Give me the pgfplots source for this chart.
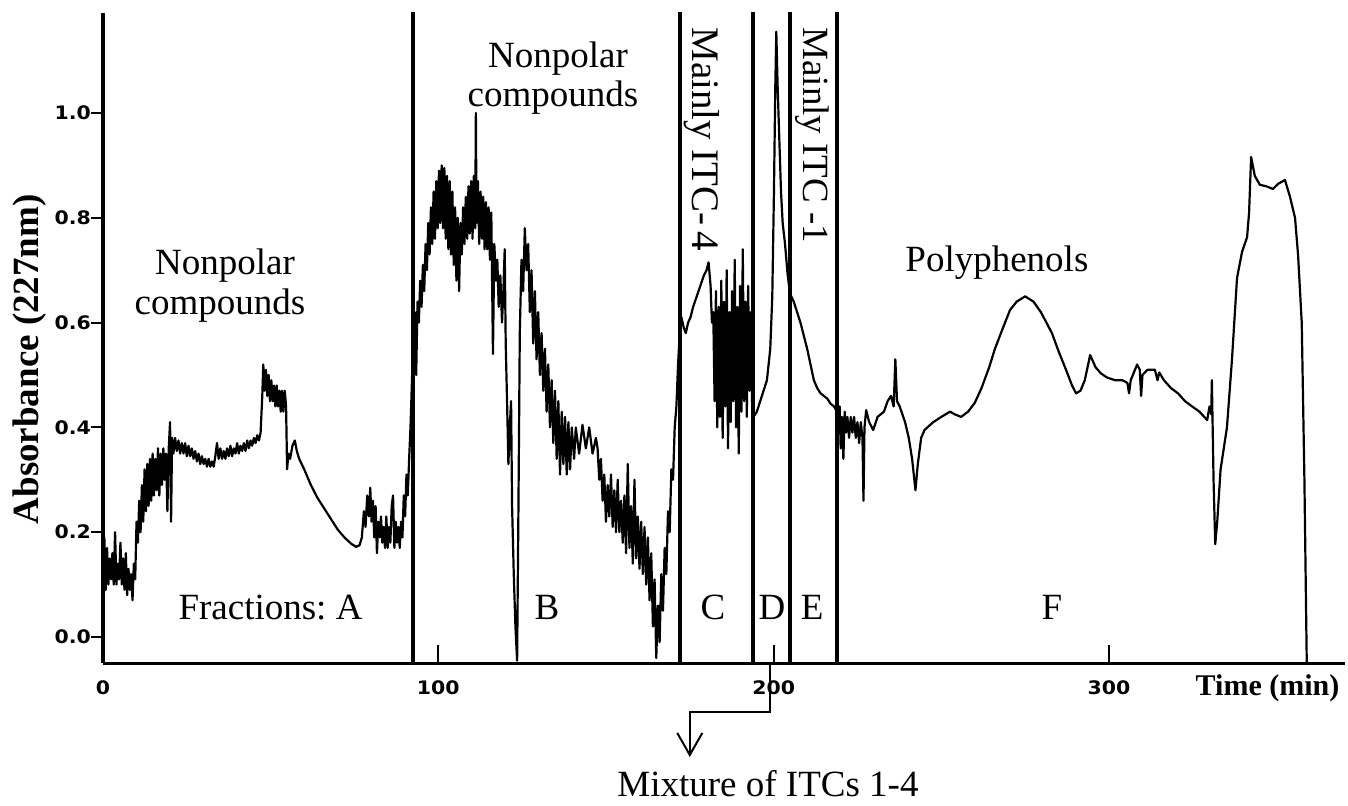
\documentclass[border=0pt]{standalone}
\usepackage{fontspec}
\setmainfont{Liberation Serif}
\newfontfamily\tickfont{DejaVu Sans}[FakeStretch=1.1]
\usepackage{pgfplots}
\pgfplotsset{compat=1.18}
\usetikzlibrary{arrows.meta}
\begin{document}
\begin{tikzpicture}
\begin{axis}[
  x=1.6765pt, y=262pt,
  xmin=0, xmax=370.4, ymin=-0.05, ymax=1.19,
  axis lines=left,
  x axis line style={-, line width=1.5pt},
  y axis line style={-, line width=2.2pt},
  clip=false,
  ytick={0,0.2,0.4,0.6,0.8,1.0},
  yticklabels={0.0,0.2,0.4,0.6,0.8,1.0},
  xtick={0,100,200,300},
  xticklabels={0,100,200,300},
  tick align=outside,
  major tick length=6pt,
  ytick style={line width=1pt, black},
  xtick style={draw=none},
  ticklabel style={font=\tickfont\bfseries\fontsize{9.3}{11}\selectfont},
  yticklabel style={xshift=3.5pt},
  xticklabel style={yshift=1pt},
]
\addplot[black, line width=1.1pt, line join=round] coordinates {
(0,0.12) (0.4,0.19) (0.8,0.09) (1.2,0.17) (1.6,0.10) (2.0,0.15) (2.4,0.11) (2.8,0.16) (3.2,0.10) (3.6,0.20) (4.0,0.10) (4.4,0.14) (4.8,0.11) (5.2,0.18) (5.6,0.10) (6.0,0.15) (6.4,0.09) (6.8,0.16) (7.2,0.08) (7.6,0.13) (8.0,0.09) (8.4,0.12) (8.8,0.07) (9.2,0.14) (9.6,0.11) (10.0,0.22) (10.4,0.18) (10.8,0.26) (11.2,0.20) (11.6,0.29) (12.0,0.22) (12.4,0.32) (12.8,0.24) (13.2,0.33) (13.6,0.25) (14.0,0.34) (14.4,0.26) (14.8,0.35) (15.2,0.27) (15.6,0.34) (16.0,0.28) (16.4,0.36) (16.8,0.27) (17.2,0.35) (17.6,0.29) (18.0,0.36) (18.4,0.30) (18.8,0.35) (19.2,0.24) (19.6,0.36) (20.0,0.41) (20.3,0.22) (20.6,0.38) (21.0,0.35) (21.5,0.38) (22.0,0.355) (22.5,0.375) (23.0,0.35) (23.5,0.37) (24.0,0.35) (24.5,0.37) (25.0,0.345) (25.5,0.365) (26.0,0.345) (26.5,0.36) (27.0,0.34) (27.5,0.355) (28.0,0.335) (28.5,0.35) (29.0,0.33) (29.5,0.345) (30.0,0.33) (30.5,0.34) (31.0,0.325) (31.5,0.34) (32.0,0.325) (32.5,0.335) (33.0,0.325) (33.5,0.345) (34.0,0.37) (34.5,0.34) (35.0,0.36) (35.5,0.34) (36.0,0.355) (36.5,0.34) (37.0,0.36) (37.5,0.345) (38.0,0.365) (38.5,0.345) (39.0,0.36) (39.5,0.35) (40.0,0.37) (40.5,0.35) (41.0,0.365) (41.5,0.355) (42.0,0.37) (42.5,0.355) (43.0,0.375) (43.5,0.36) (44.0,0.375) (44.5,0.365) (45.0,0.38) (45.5,0.37) (46.0,0.385) (46.5,0.375) (47.0,0.39) (47.5,0.46) (47.8,0.52) (48.2,0.47) (48.6,0.51) (49.0,0.46) (49.4,0.50) (49.8,0.45) (50.2,0.49) (50.6,0.45) (51.0,0.48) (51.4,0.44) (51.8,0.48) (52.2,0.44) (52.6,0.47) (53.0,0.43) (53.4,0.47) (53.8,0.43) (54.2,0.47) (54.6,0.44) (54.9,0.32) (55.3,0.35) (55.8,0.34) (56.5,0.365) (57.2,0.375) (57.8,0.355) (58.5,0.34) (60,0.32) (62,0.29) (64,0.265) (66,0.245) (68,0.225) (70,0.205) (72,0.19) (74,0.178) (75.5,0.172) (76.5,0.175) (77.2,0.19) (77.8,0.24) (78.3,0.21) (78.8,0.27) (79.3,0.23) (79.7,0.285) (80.1,0.22) (80.5,0.26) (80.9,0.19) (81.3,0.25) (81.7,0.16) (82.1,0.22) (82.5,0.19) (82.9,0.23) (83.3,0.18) (83.7,0.21) (84.1,0.17) (84.5,0.23) (84.9,0.17) (85.3,0.21) (85.7,0.18) (86.1,0.25) (86.5,0.27) (86.9,0.17) (87.3,0.22) (87.7,0.18) (88.1,0.21) (88.5,0.17) (88.9,0.22) (89.3,0.19) (89.7,0.27) (90.1,0.23) (90.5,0.31) (90.9,0.27) (91.3,0.34) (91.7,0.40) (92.1,0.48) (92.5,0.56)
(93.0,0.62) (93.4,0.50) (93.8,0.64) (94.2,0.60) (94.6,0.68) (95.0,0.63) (95.4,0.71) (95.8,0.66) (96.2,0.75) (96.6,0.70) (97.0,0.79) (97.4,0.73) (97.8,0.82) (98.2,0.75) (98.6,0.85) (99.0,0.76) (99.4,0.87) (99.8,0.78) (100.2,0.89) (100.6,0.79) (101.0,0.90) (101.4,0.78) (101.8,0.895) (102.2,0.76) (102.6,0.88) (103.0,0.74) (103.4,0.87) (103.8,0.73) (104.2,0.85) (104.6,0.71) (105.0,0.82) (105.4,0.68) (105.8,0.80) (106.2,0.66) (106.6,0.79) (107.0,0.73) (107.4,0.82) (107.8,0.75) (108.2,0.84) (108.6,0.76) (109.0,0.86) (109.4,0.77) (109.8,0.87) (110.2,0.76) (110.6,0.88) (111.0,0.78) (111.2,1.00) (111.4,0.79) (111.8,0.87) (112.2,0.75) (112.6,0.85) (113.0,0.76) (113.4,0.84) (113.8,0.74) (114.2,0.83) (114.6,0.74) (115.0,0.82) (115.4,0.72) (115.8,0.81) (116.3,0.54) (116.7,0.75) (117.2,0.68) (117.6,0.72) (118.0,0.63) (118.5,0.69) (119.0,0.60) (119.4,0.66) (119.8,0.74) (120.1,0.56) (120.5,0.45) (120.9,0.33) (121.3,0.40) (121.7,0.45) (122.0,0.25) (122.5,0.12) (123.0,0.02) (123.5,-0.045) (123.9,0.25) (124.3,0.58)
(124.8,0.72) (125.3,0.66) (125.8,0.78) (126.3,0.70) (126.8,0.75) (127.3,0.62) (127.8,0.70) (128.3,0.56) (128.8,0.66) (129.3,0.53) (129.8,0.62) (130.3,0.50) (130.8,0.58) (131.3,0.47) (131.8,0.55) (132.3,0.43) (132.8,0.52) (133.3,0.40) (133.8,0.49) (134.3,0.37) (134.8,0.47) (135.3,0.34) (135.8,0.45) (136.3,0.31) (136.8,0.43) (137.3,0.33) (137.8,0.42) (138.3,0.31) (138.8,0.41) (139.3,0.32) (139.8,0.40) (140.5,0.34) (141,0.40) (142,0.35) (143,0.405) (144,0.36) (145,0.40) (146,0.35) (147,0.38)
(147.5,0.36) (148,0.30) (148.5,0.34) (149,0.26) (149.5,0.31) (150,0.22) (150.5,0.29) (151,0.23) (151.5,0.31) (152,0.21) (152.5,0.28) (153,0.20) (153.5,0.30) (154,0.20) (154.5,0.26) (155,0.18) (155.5,0.27) (156,0.16) (156.5,0.33) (157,0.17) (157.5,0.25) (158,0.14) (158.5,0.30) (159,0.15) (159.5,0.23) (160,0.13) (160.5,0.22) (161,0.12) (161.5,0.21) (162,0.10) (162.5,0.19) (163,0.07) (163.5,0.16) (164,0.02) (164.5,0.11) (165,-0.04) (165.5,0.06) (166,-0.01) (166.5,0.12) (167,0.05) (167.5,0.17) (168,0.12) (168.5,0.24) (169,0.20) (169.5,0.32) (170,0.30) (170.5,0.40) (171,0.44) (171.5,0.52) (172,0.58) (172.5,0.61)
(173.2,0.59) (173.8,0.58) (174.5,0.60) (175.2,0.61) (176,0.63) (176.8,0.645) (177.6,0.66) (178.4,0.675) (179.2,0.69) (180,0.70) (180.6,0.715) (181.2,0.67) (181.6,0.60)
(182,0.62) (182.4,0.45) (182.8,0.66) (183.2,0.40) (183.6,0.63) (184,0.42) (184.4,0.68) (184.8,0.38) (185.2,0.64) (185.6,0.44) (186,0.70) (186.4,0.36) (186.8,0.62) (187.2,0.41) (187.6,0.66) (188,0.45) (188.4,0.72) (188.8,0.40) (189.2,0.63) (189.6,0.35) (190,0.67) (190.4,0.43) (190.8,0.74) (191.2,0.45) (191.6,0.64) (192,0.42) (192.4,0.67) (192.8,0.47) (193.2,0.62) (193.6,0.44)
(194,0.42) (195,0.43) (196,0.45) (197,0.47) (198,0.49) (199,0.55) (199.6,0.65) (200.1,0.85) (200.5,1.05) (200.8,1.155) (201.2,1.05) (201.7,0.95) (202.2,0.85) (202.7,0.79) (203.4,0.75) (204.2,0.69) (204.9,0.655) (206,0.64) (207,0.62) (208,0.60) (209,0.575) (210,0.55) (211,0.52) (212,0.49) (213,0.475) (214,0.465) (215,0.46) (216,0.455) (217,0.445) (218,0.44) (218.9,0.43)
(219.3,0.40) (219.7,0.44) (220,0.36) (220.4,0.42) (220.8,0.34) (221.2,0.43) (221.6,0.39) (222,0.42) (222.5,0.38) (223,0.42) (223.5,0.39) (224,0.42) (224.5,0.38) (225,0.41) (225.5,0.37) (226,0.41) (226.5,0.38) (226.8,0.26) (227.1,0.40) (227.6,0.433) (228.5,0.41) (229.7,0.395) (231,0.42) (232.9,0.43) (234,0.45) (235,0.46) (235.8,0.44) (236.3,0.53) (236.8,0.45) (237.6,0.44) (239.2,0.41) (240.3,0.38) (241.3,0.34) (242.3,0.28) (243,0.33) (244,0.38) (245,0.395) (247.6,0.41) (250,0.42) (252.6,0.43) (254,0.425) (255.9,0.42) (258,0.43) (260,0.447) (262,0.475) (264.3,0.515) (266,0.55) (268.4,0.59) (270.5,0.624) (272.5,0.64) (275,0.65) (277.5,0.64) (279.7,0.62) (283,0.58) (285,0.545) (287.2,0.51) (289,0.48) (290.2,0.465) (291.5,0.47) (292.8,0.49) (294.4,0.538) (296,0.515) (297.6,0.503) (299.5,0.495) (301.8,0.49) (304,0.49) (305.5,0.485) (306,0.465) (306.5,0.49) (308.4,0.52) (309.2,0.51) (309.6,0.46) (310,0.50) (311.5,0.51) (313.7,0.51) (314.5,0.49) (315,0.505) (316.4,0.49) (318.5,0.475) (320.6,0.465) (322.7,0.45) (324.8,0.44) (327,0.43) (329.3,0.414) (330,0.44) (330.5,0.425) (330.7,0.49) (331.2,0.30) (331.7,0.177) (332.3,0.22) (333.3,0.32) (335.2,0.40) (336.7,0.53) (338.2,0.685) (339.7,0.735) (341.2,0.763) (341.8,0.81) (342.4,0.916) (343.5,0.88) (345,0.863) (347,0.86) (348.9,0.855) (350.5,0.865) (352.5,0.872) (354,0.84) (355.5,0.80) (356.4,0.73) (357.5,0.60) (358.3,0.30) (359,-0.05)
};
% fraction boundaries
\draw[line width=2pt] (axis cs:92.5,-0.05) -- (axis cs:92.5,1.193);
\draw[line width=2pt] (axis cs:172.1,-0.05) -- (axis cs:172.1,1.193);
\draw[line width=2pt] (axis cs:193.9,-0.05) -- (axis cs:193.9,1.193);
\draw[line width=2pt] (axis cs:204.9,-0.05) -- (axis cs:204.9,1.193);
\draw[line width=2pt] (axis cs:218.9,-0.05) -- (axis cs:218.9,1.193);
% x ticks
\draw[line width=0.9pt] (axis cs:100,-0.05) -- ++(0,-4pt);
\draw[line width=0.9pt] (axis cs:200,-0.05) -- ++(0,-4pt);
\draw[line width=0.9pt] (axis cs:300,-0.05) -- ++(0,-4pt);
% annotations
\node[anchor=base, font=\fontsize{18.5}{20}\selectfont] at (axis cs:36.4,0.691) {Nonpolar};
\node[anchor=base, font=\fontsize{18.5}{20}\selectfont] at (axis cs:34.9,0.6145) {compounds};
\node[anchor=base, font=\fontsize{18.5}{20}\selectfont] at (axis cs:135.7,1.086) {Nonpolar};
\node[anchor=base, font=\fontsize{18.5}{20}\selectfont] at (axis cs:134.2,1.0115) {compounds};
\node[anchor=base, font=\fontsize{18.5}{20}\selectfont] at (axis cs:266.6,0.6966) {Polyphenols};
\node[anchor=west, rotate=-90, inner sep=0pt, font=\fontsize{19.5}{21}\selectfont] at (axis cs:178.6,1.164) {Mainly ITC-\hspace{0.15em}4};
\node[anchor=west, rotate=-90, inner sep=0pt, font=\fontsize{18.5}{20}\selectfont] at (axis cs:211.5,1.164) {Mainly ITC -1};
\node[anchor=base west, inner sep=0pt, font=\fontsize{18.5}{20}\selectfont] at (axis cs:22.4,0.034) {Fractions:};
\node[anchor=base, inner sep=0pt, font=\fontsize{18.5}{20}\selectfont] at (axis cs:73.4,0.034) {A};
\node[anchor=base, inner sep=0pt, font=\fontsize{18.5}{20}\selectfont] at (axis cs:132.4,0.034) {B};
\node[anchor=base, inner sep=0pt, font=\fontsize{18.5}{20}\selectfont] at (axis cs:181.9,0.034) {C};
\node[anchor=base, inner sep=0pt, font=\fontsize{18.5}{20}\selectfont] at (axis cs:199.5,0.034) {D};
\node[anchor=base, inner sep=0pt, font=\fontsize{18.5}{20}\selectfont] at (axis cs:211.5,0.034) {E};
\node[anchor=base, inner sep=0pt, font=\fontsize{18.5}{20}\selectfont] at (axis cs:283.0,0.034) {F};
\node[rotate=90, font=\bfseries\fontsize{18.5}{20}\selectfont] at (axis cs:-21.8,0.53) {Absorbance (227nm)};
\node[font=\bfseries\fontsize{15}{17}\selectfont] at (axis cs:347.3,-0.0973) {Time (min)};
\draw[line width=1pt, -{Straight Barb[length=11pt,width=12.5pt,line width=1pt]}] (axis cs:198.9,-0.05) -- (axis cs:198.9,-0.1431) -- (axis cs:175.0,-0.1431) -- (axis cs:175.0,-0.229);
\node[anchor=base west, inner sep=0pt, font=\fontsize{18.5}{20}\selectfont] at (axis cs:153.3,-0.305) {Mixture of ITCs 1-4};
\coordinate (BL) at (axis cs:-30.72,-0.3225);
\coordinate (TR) at (axis cs:371.3,1.2156);
\end{axis}
\pgfresetboundingbox
\path (BL) rectangle (TR);
\end{tikzpicture}
\end{document}
